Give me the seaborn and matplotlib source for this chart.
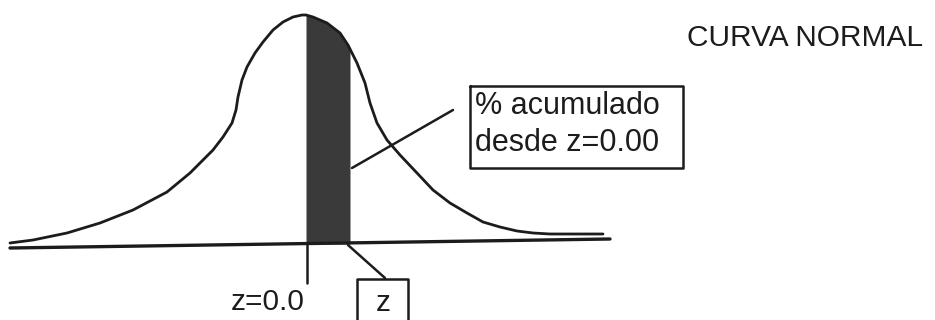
import matplotlib
matplotlib.use('Agg')
import matplotlib.pyplot as plt
import seaborn as sns
import pandas as pd

# curve (pixel-like units, y grows downward)
curve_x = [10, 33, 67, 100, 133, 167, 190, 200, 213, 223, 232, 236, 238,
           242, 247, 255, 263, 273, 283, 293, 302, 306, 313, 327, 340, 348,
           350, 357, 365, 370, 377, 387, 400, 417, 433, 450, 467, 483, 500,
           517, 533, 550, 567, 603]
curve_y = [243, 240, 233, 223, 210, 192, 173, 163, 150, 137, 123, 110, 97,
           80, 67, 53, 42, 30, 22, 17, 15, 15, 17, 23, 33, 45,
           49, 63, 83, 103, 123, 140, 155, 173, 190, 203, 213, 222, 227,
           231, 233, 234, 234, 234]

# shaded area between z=0 and z
shade_from = 306
shade_to = 350

# baseline end points (the scan is a little tilted)
base_x = [10, 610]
base_y = [248, 239]

title = 'CURVA NORMAL'
box_lines = ['% acumulado', 'desde z=0.00']
zero_label = 'z=0.0'
z_label = 'z'

sns.set_style('white')
plt.rcParams['font.family'] = ['Liberation Sans', 'DejaVu Sans']

fig = plt.figure(figsize=(9.35, 3.2), dpi=100)
ax = fig.add_axes([0, 0, 1, 1])

df = pd.DataFrame({'x': curve_x, 'y': curve_y})
sns.lineplot(data=df, x='x', y='y', sort=False, estimator=None,
             color='#1c1c1c', linewidth=2.0, ax=ax)

shade = df[(df['x'] >= shade_from) & (df['x'] <= shade_to)]
ax.fill_between(shade['x'], shade['y'], 244, color='#3a3a3a', linewidth=0)

sns.lineplot(x=base_x, y=base_y, color='#1c1c1c', linewidth=2.4, ax=ax)

# tick under z=0 and leader to the z box
ax.plot([307, 307], [245, 283], color='#1c1c1c', linewidth=1.8)
ax.plot([348, 385], [245, 278], color='#1c1c1c', linewidth=1.8)
ax.plot([357, 357, 408, 408], [322, 279, 279, 322], color='#1c1c1c',
        linewidth=1.8)

# leader from the shaded area to the label box
ax.plot([352, 453], [168, 110], color='#1c1c1c', linewidth=1.8)
ax.plot([470, 683, 683, 470, 470], [86, 86, 168, 168, 86],
        color='#1c1c1c', linewidth=1.8)

ax.text(475, 106, box_lines[0], fontsize=22, va='center', ha='left',
        color='#1c1c1c')
ax.text(475, 143, box_lines[1], fontsize=22, va='center', ha='left',
        color='#1c1c1c')
ax.text(923, 38, title, fontsize=21.5, va='center', ha='right',
        color='#1c1c1c')
ax.text(305, 302, zero_label, fontsize=21.5, va='center', ha='right',
        color='#1c1c1c')
ax.text(383, 303, z_label, fontsize=21.5, va='center', ha='center',
        color='#1c1c1c')

ax.set_xlim(0, 935)
ax.set_ylim(320, 0)
ax.set_axis_off()

fig.savefig('out.png', dpi=100)
